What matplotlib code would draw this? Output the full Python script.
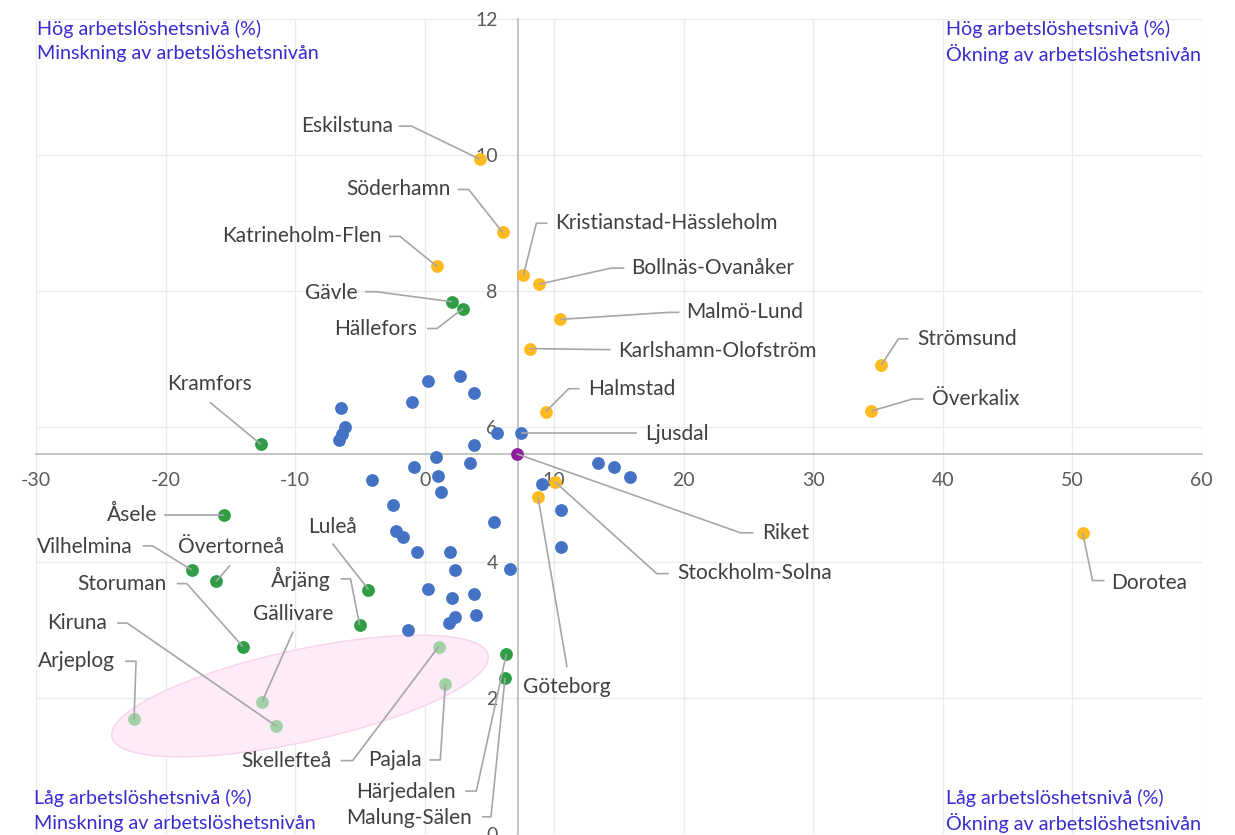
import numpy as np
import matplotlib.pyplot as plt
from matplotlib.patches import Ellipse
from matplotlib import transforms

plt.rcParams['font.family'] = ['Lato', 'DejaVu Sans']
plt.rcParams['axes.unicode_minus'] = False

# övriga regioner (blå)
ovriga_x = [-6.44, -6.18, -6.38, -6.57, -0.97, 0.26, 2.76, 3.84, 5.60, 3.84,
            0.90, -0.85, 3.48, 1.00, 1.27, -4.07, -2.44, 13.4, 14.64, 15.84,
            10.54, 10.54, 5.33, -2.19, -1.70, -0.59, 1.99, 2.37, 6.60, 0.26,
            2.12, 3.84, 4.00, 2.37, 1.85, -1.31, 9.07]
ovriga_y = [6.27, 6.00, 5.89, 5.80, 6.37, 6.67, 6.75, 6.49, 5.90, 5.73,
            5.55, 5.40, 5.47, 5.28, 5.04, 5.21, 4.85, 5.47, 5.40, 5.26,
            4.77, 4.23, 4.60, 4.46, 4.37, 4.16, 4.16, 3.89, 3.91, 3.61,
            3.47, 3.53, 3.23, 3.19, 3.11, 3.00, 5.15]

# Ljusdal (blå, namngiven)
ljusdal_x, ljusdal_y = 7.47, 5.90

# ökning av arbetslösheten (orange)
okning_namn = ['Eskilstuna', 'Söderhamn', 'Katrineholm-Flen', 'Kristianstad-Hässleholm',
               'Bollnäs-Ovanåker', 'Malmö-Lund', 'Karlshamn-Olofström', 'Halmstad',
               'Strömsund', 'Överkalix', 'Dorotea', 'Göteborg', 'Stockholm-Solna']
okning_x = [4.25, 6.03, 0.96, 7.63, 8.86, 10.49, 8.11, 9.35, 35.27, 34.5, 50.8, 8.76, 10.05]
okning_y = [9.94, 8.86, 8.36, 8.23, 8.10, 7.58, 7.15, 6.22, 6.91, 6.23, 4.44, 4.96, 5.19]

# minskning av arbetslösheten (grön)
minskning_namn = ['Gävle', 'Hällefors', 'Kramfors', 'Åsele', 'Vilhelmina', 'Övertorneå',
                  'Storuman', 'Luleå', 'Årjäng', 'Härjedalen', 'Malung-Sälen']
minskning_x = [2.12, 2.97, -12.64, -15.46, -17.98, -16.1, -14.03, -4.33, -5.02, 6.31, 6.21]
minskning_y = [7.84, 7.74, 5.74, 4.70, 3.89, 3.72, 2.76, 3.60, 3.08, 2.65, 2.30]

# låg nivå och minskning (ljusgrön)
lag_namn = ['Arjeplog', 'Gällivare', 'Kiruna', 'Skellefteå', 'Pajala']
lag_x = [-22.43, -12.54, -11.46, 1.09, 1.60]
lag_y = [1.69, 1.95, 1.59, 2.76, 2.21]

riket_x, riket_y = 7.1, 5.6
axel_x, axel_y = 7.25, 5.6

x_ticks = [-30, -20, -10, 0, 10, 20, 30, 40, 50, 60]
y_ticks = [0, 2, 4, 6, 8, 10, 12]

# etiketter: ha, textförskjutning (px, y nedåt), ledarlinje (px)
etiketter = {
    'Eskilstuna': ('right', (-86, -33), [(-81, -33), (-68, -33)]),
    'Söderhamn': ('right', (-52, -43), [(-45, -43), (-34, -43)]),
    'Katrineholm-Flen': ('right', (-55, -30), [(-48, -30), (-37, -30)]),
    'Kristianstad-Hässleholm': ('left', (32, -52), [(24, -52), (13, -52)]),
    'Bollnäs-Ovanåker': ('left', (92, -16), [(85, -16), (72, -16)]),
    'Malmö-Lund': ('left', (126, -7), [(119, -7), (108, -7)]),
    'Karlshamn-Olofström': ('left', (89, 2), [(81, 1), (71, 1)]),
    'Halmstad': ('left', (42, -23), [(34, -23), (23, -23)]),
    'Ljusdal': ('left', (124, 1), [(116, 0), (104, 0)]),
    'Riket': ('left', (246, 79), [(237, 79), (224, 79)]),
    'Stockholm-Solna': ('left', (123, 91), [(114, 92), (102, 92)]),
    'Göteborg': ('left', (-15, 190), [(29, 170)]),
    'Strömsund': ('left', (36, -26), [(27, -26), (17, -26)]),
    'Överkalix': ('left', (61, -12), [(52, -12), (41, -12)]),
    'Dorotea': ('left', (29, 50), [(22, 48), (10, 48)]),
    'Gävle': ('right', (-95, -9), [(-87, -10), (-76, -10)]),
    'Hällefors': ('right', (-46, 20), [(-36, 20), (-26, 20)]),
    'Kramfors': ('center', (-51, -60), [(-51, -42)]),
    'Åsele': ('right', (-67, 0), [(-60, 0)]),
    'Vilhelmina': ('right', (-59, -23), [(-49, -24), (-39, -24)]),
    'Övertorneå': ('center', (15, -34), [(14, -16)]),
    'Storuman': ('right', (-76, -63), [(-66, -63), (-56, -63)]),
    'Kiruna': ('right', (-169, -103), [(-159, -103), (-149, -103)]),
    'Arjeplog': ('right', (-19, -58), [(-9, -58), (2, -58)]),
    'Gällivare': ('center', (31, -88), [(31, -70)]),
    'Luleå': ('center', (-36, -63), [(-36, -46)]),
    'Årjäng': ('right', (-29, -46), [(-19, -46), (-9, -46)]),
    'Skellefteå': ('right', (-107, 114), [(-98, 114), (-86, 114)]),
    'Pajala': ('right', (-24, 76), [(-16, 76), (-5, 76)]),
    'Härjedalen': ('right', (-51, 138), [(-41, 137), (-30, 137)]),
    'Malung-Sälen': ('right', (-33, 140), [(-23, 139), (-14, 139)]),
}

fig = plt.figure(figsize=(12.35, 8.35), dpi=100)
ax = fig.add_axes([0.02915, 0.0012, 0.9439, 0.9757])
ax.set_xlim(-30, 60)
ax.set_ylim(0, 12)
ax.set_xticks(x_ticks)
ax.set_yticks(y_ticks)
ax.grid(True, color='#EBEBEB', lw=1, zorder=0)
ax.set_axisbelow(True)

for s in ['top', 'right']:
    ax.spines[s].set_visible(False)
ax.spines['left'].set_position(('data', axel_x))
ax.spines['bottom'].set_position(('data', axel_y))
for s in ['left', 'bottom']:
    ax.spines[s].set_color('#BFBFBF')
    ax.spines[s].set_linewidth(1.3)
ax.tick_params(axis='both', length=0, colors='#595959', labelsize=14)
ax.tick_params(axis='y', pad=15)
ax.tick_params(axis='x', pad=13)

# ellips runt de ljusgröna
cx, cy = ax.transData.inverted().transform((300, 835 - 696))
ell = Ellipse((0, 0), 3.85, 0.92, angle=12.3, facecolor='#FDEBF7',
              edgecolor='#F8D3EE', lw=1, zorder=1,
              transform=fig.dpi_scale_trans + transforms.ScaledTranslation(cx, cy, ax.transData))
ax.add_patch(ell)

ms = 85
ax.scatter(ovriga_x, ovriga_y, s=ms, c='#4472C4', zorder=3, lw=0)
ax.scatter([ljusdal_x], [ljusdal_y], s=ms, c='#4472C4', zorder=3, lw=0)
ax.scatter(okning_x, okning_y, s=ms, c='#FFBA1F', zorder=3, lw=0)
ax.scatter(minskning_x, minskning_y, s=ms, c='#2E9E45', zorder=3, lw=0)
ax.scatter(lag_x, lag_y, s=ms, c='#A2D1A6', zorder=3, lw=0)
ax.scatter([riket_x], [riket_y], s=ms, c='#8E1E9E', zorder=3, lw=0)

punkter = {'Ljusdal': (ljusdal_x, ljusdal_y), 'Riket': (riket_x, riket_y)}
for n, x, y in zip(okning_namn, okning_x, okning_y):
    punkter[n] = (x, y)
for n, x, y in zip(minskning_namn, minskning_x, minskning_y):
    punkter[n] = (x, y)
for n, x, y in zip(lag_namn, lag_x, lag_y):
    punkter[n] = (x, y)

ident = transforms.IdentityTransform()
for namn, (ha, (tx, ty), linje) in etiketter.items():
    px, py = ax.transData.transform(punkter[namn])
    ax.text(px + tx, py - ty, namn, transform=ident, ha=ha, va='center',
            fontsize=15, color='#404040', zorder=5)
    lx = [px + a for a, b in linje] + [px]
    ly = [py - b for a, b in linje] + [py]
    ax.plot(lx, ly, transform=ident, color='#A6A6A6', lw=1.2, zorder=4,
            solid_capstyle='butt')

# kvadrant-texter
bla = '#3A2BD0'
kvadranter = [
    (37, 29, 'Hög arbetslöshetsnivå (%)'), (37, 54, 'Minskning av arbetslöshetsnivån'),
    (946, 29, 'Hög arbetslöshetsnivå (%)'), (946, 54, 'Ökning av arbetslöshetsnivån'),
    (34, 798, 'Låg arbetslöshetsnivå (%)'), (34, 823, 'Minskning av arbetslöshetsnivån'),
    (946, 798, 'Låg arbetslöshetsnivå (%)'), (946, 823, 'Ökning av arbetslöshetsnivån'),
]
for x, y, t in kvadranter:
    fig.text(x / 1235, 1 - y / 835, t, ha='left', va='center', fontsize=14.2, color=bla)

fig.savefig('out.png', dpi=100)
